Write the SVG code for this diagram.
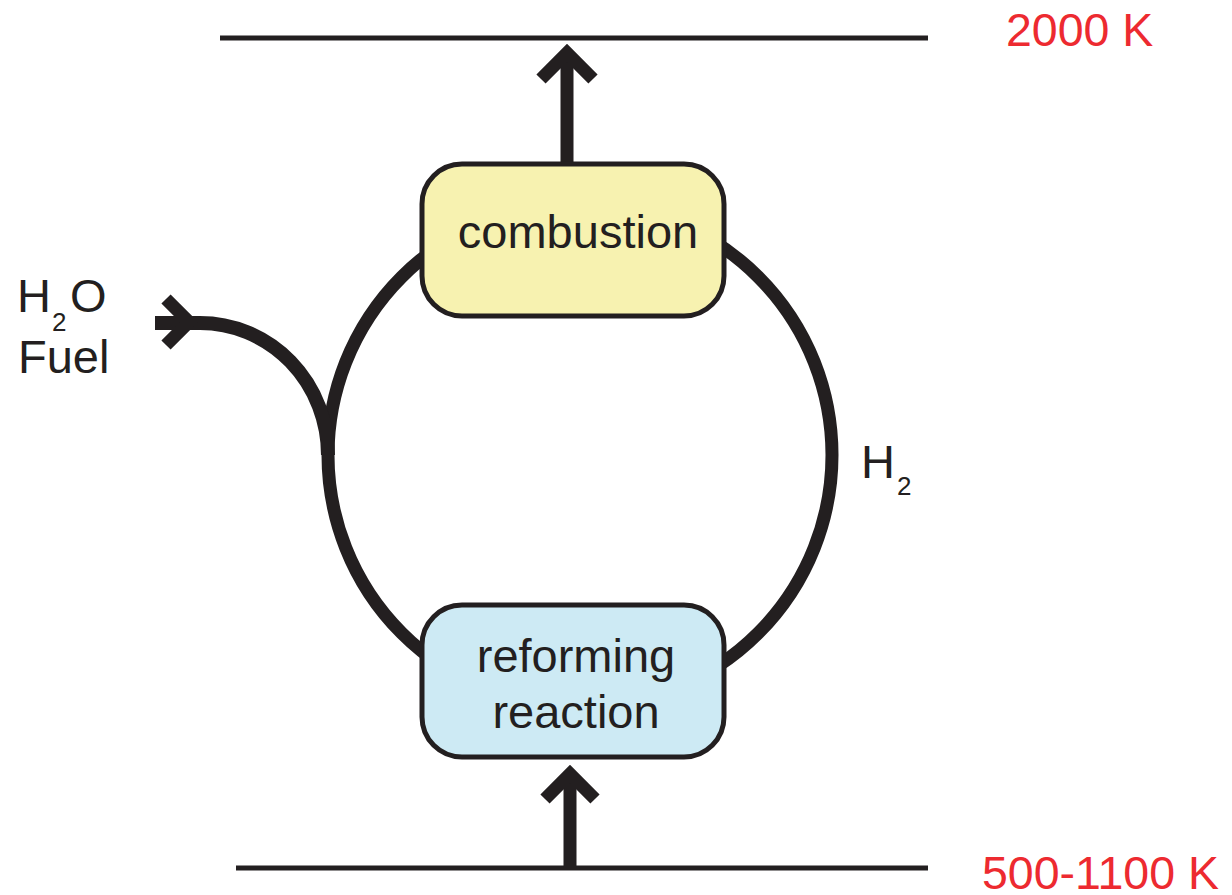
<svg xmlns="http://www.w3.org/2000/svg" width="1232" height="895" viewBox="0 0 1232 895">
<style>
.ln{fill:none;stroke:#231f20;stroke-linecap:butt;stroke-linejoin:miter}
.t{font-family:"Liberation Sans",Arial,sans-serif;font-size:47px;fill:#231f20}
.sub{font-size:26px}
.red{fill:#ed2a30;font-size:46.5px}
.box{stroke:#231f20;stroke-width:5}
</style>
<rect width="1232" height="895" fill="#fff"/>
<g id="connectors">
<line class="ln" x1="220" y1="38" x2="928" y2="38" stroke-width="5"/>
<line class="ln" x1="236" y1="868" x2="928" y2="868" stroke-width="5"/>
<circle class="ln" cx="580" cy="455" r="252" stroke-width="13"/>
<path class="ln" d="M155,323 L200,323 A128,132 0 0 1 328,455" stroke-width="14"/>
<path class="ln" d="M166,299 L189,322 L166,345" stroke-width="13"/>
<line class="ln" x1="567" y1="164" x2="567" y2="56" stroke-width="13"/>
<path class="ln" d="M541,79 L567,53 L593,79" stroke-width="13"/>
<line class="ln" x1="570" y1="868" x2="570" y2="777" stroke-width="13"/>
<path class="ln" d="M545,799 L570,774 L595,799" stroke-width="13"/>
</g>
<g id="combustion">
<rect class="box" x="422" y="164" width="302" height="152" rx="40" fill="#f7f2b0"/>
<text class="t" x="578" y="248" text-anchor="middle">combustion</text>
</g>
<g id="reforming">
<rect class="box" x="422" y="605" width="302" height="152" rx="40" fill="#cdeaf4"/>
<text class="t" x="576" y="672" text-anchor="middle">reforming</text>
<text class="t" x="576" y="728" text-anchor="middle">reaction</text>
</g>
<g id="inputs">
<text class="t" x="17" y="312">H<tspan class="sub" x="52" y="331">2</tspan><tspan x="70" y="312">O</tspan></text>
<text class="t" x="18" y="373">Fuel</text>
</g>
<g id="h2label">
<text class="t" x="861" y="478">H<tspan class="sub" x="897" y="495">2</tspan></text>
</g>
<g id="temps">
<text class="t red" x="1006" y="46">2000 K</text>
<text class="t red" x="982" y="889">500-1100 K</text>
</g>
</svg>
